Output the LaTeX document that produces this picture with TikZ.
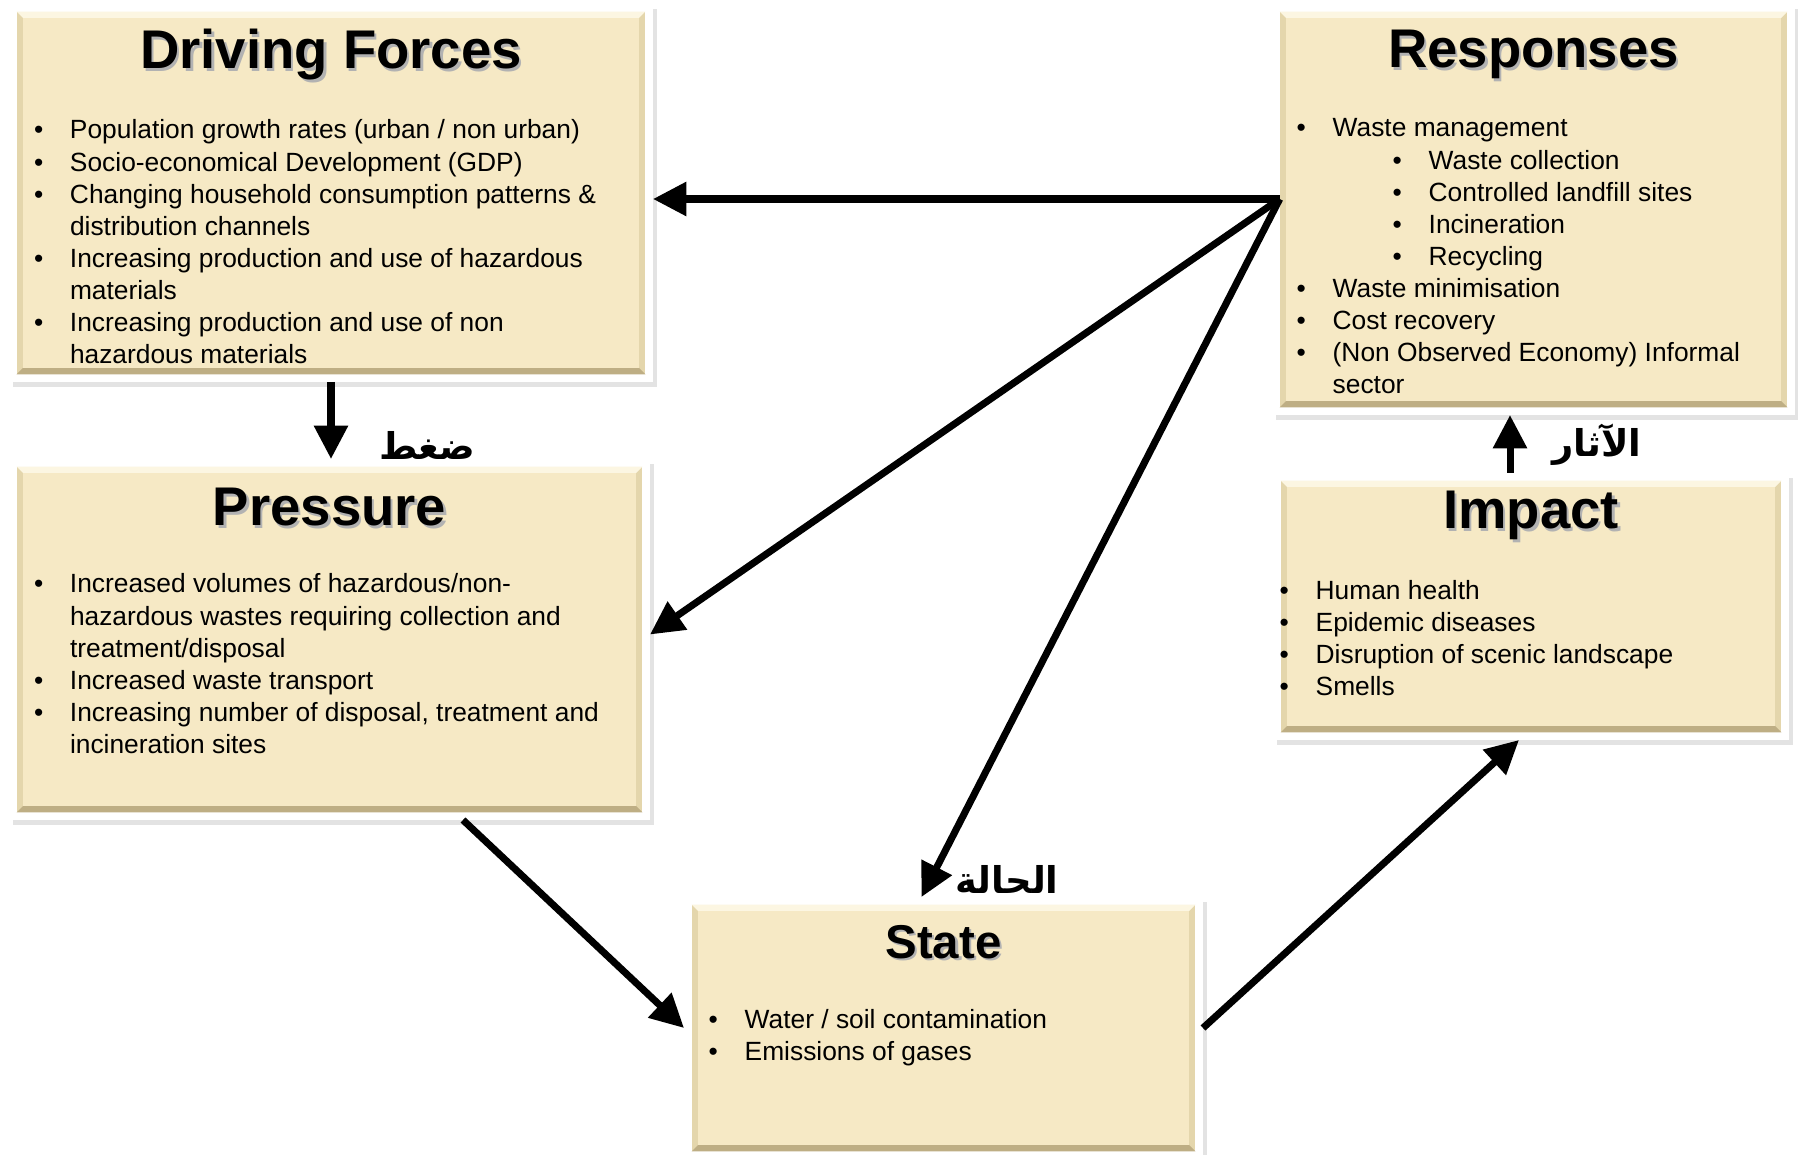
\documentclass[tikz,border=0pt]{standalone}
\usepackage{fontspec}
\setmainfont{Liberation Sans}
\newfontfamily\arabicfont[Script=Arabic]{DejaVu Sans}
\TeXXeTstate=1
\usetikzlibrary{arrows.meta,shadows}

\definecolor{boxfill}{RGB}{246,233,197}
\definecolor{bevellight}{RGB}{252,246,226}
\definecolor{beveldark}{RGB}{190,174,132}
\definecolor{bevelside}{RGB}{228,214,172}

\newcommand{\shadowed}[1]{\rlap{\raisebox{-0.7pt}{\hspace{0.7pt}\textcolor{black!30}{#1}}}#1}
\newcommand{\bul}{\makebox[0.36cm][l]{\textbullet}}
\newcommand{\cont}{\hspace*{0.36cm}}
\newcommand{\subbul}{\hspace*{0.96cm}\bul}

\tikzset{
  box/.style={
    rectangle,
    fill=white,
    inner sep=0pt,
    outer sep=0pt,
    drop shadow={shadow xshift=1pt, shadow yshift=-1.4pt, opacity=.22},
    path picture={
      \path ([shift={(2.2pt,2.2pt)}]path picture bounding box.south west) coordinate (o1)
            ([shift={(-2.2pt,-2.2pt)}]path picture bounding box.north east) coordinate (o3)
            ([shift={(4pt,4pt)}]path picture bounding box.south west) coordinate (i1)
            ([shift={(-4pt,-4pt)}]path picture bounding box.north east) coordinate (i3);
      \fill[bevelside] (o1) rectangle (o3);
      \fill[bevellight] (o1 |- o3) -- (o3) -- (i3) -- (i1 |- i3) -- cycle;
      \fill[beveldark] (o1) -- (o1 -| o3) -- (i1 -| i3) -- (i1) -- cycle;
      \fill[boxfill] (i1) rectangle (i3);
    }
  },
  title/.style={
    font=\fontsize{15.5}{18}\selectfont\bfseries,
    inner sep=0pt,
    anchor=base
  },
  small title/.style={
    title,
    font=\fontsize{13.5}{16}\selectfont\bfseries
  },
  items/.style={
    font=\fontsize{7.5}{9.13}\selectfont,
    inner sep=0pt,
    anchor=base west
  },
  arlabel/.style={
    font=\arabicfont\bfseries\fontsize{10.5}{12.5}\selectfont,
    inner sep=0pt
  },
  conn/.style={
    draw,
    line width=2pt,
    -{Triangle[length=9.5pt,width=9.3pt]}
  }
}

\begin{document}
\begin{tikzpicture}
  \useasboundingbox (0,0) rectangle (17.98,-11.55);

  \node[box, minimum width=6.44cm, minimum height=3.78cm] at (3.31,-1.93) (drv) {};
  \node[box, minimum width=5.23cm, minimum height=4.11cm] at (15.335,-2.095) (resp) {};
  \node[box, minimum width=6.41cm, minimum height=3.61cm] at (3.295,-6.395) (prs) {};
  \node[box, minimum width=5.16cm, minimum height=2.67cm] at (15.31,-6.065) (imp) {};
  \node[box, minimum width=5.19cm, minimum height=2.62cm] at (9.435,-10.28) (st) {};

  \node[title] at (3.31,-0.69) (drv-t) {\shadowed{Driving Forces}};
  \node[title] at (15.335,-0.68) (resp-t) {\shadowed{Responses}};
  \node[title] at (3.295,-5.26) (prs-t) {\shadowed{Pressure}};
  \node[title] at (15.31,-5.29) (imp-t) {\shadowed{Impact}};
  \node[small title] at (9.435,-9.58) (st-t) {\shadowed{State}};

  \node[items] at (0.333,-1.39) (drv-l) {\begin{tabular}[t]{@{}l@{}}
    \bul Population growth rates (urban / non urban)\\
    \bul Socio-economical Development (GDP)\\
    \bul Changing household consumption patterns \&\\
    \cont distribution channels\\
    \bul Increasing production and use of hazardous\\
    \cont materials\\
    \bul Increasing production and use of non\\
    \cont hazardous materials
  \end{tabular}};
  \node[items] at (12.96,-1.37) (resp-l) {\begin{tabular}[t]{@{}l@{}}
    \bul Waste management\\
    \subbul Waste collection\\
    \subbul Controlled landfill sites\\
    \subbul Incineration\\
    \subbul Recycling\\
    \bul Waste minimisation\\
    \bul Cost recovery\\
    \bul (Non Observed Economy) Informal\\
    \cont sector
  \end{tabular}};
  \node[items] at (0.333,-5.93) (prs-l) {\begin{tabular}[t]{@{}l@{}}
    \bul Increased volumes of hazardous/non-\\
    \cont hazardous wastes requiring collection and\\
    \cont treatment/disposal\\
    \bul Increased waste transport\\
    \bul Increasing number of disposal, treatment and\\
    \cont incineration sites
  \end{tabular}};
  \node[items] at (12.79,-5.995) (imp-l) {\begin{tabular}[t]{@{}l@{}}
    \bul Human health\\
    \bul Epidemic diseases\\
    \bul Disruption of scenic landscape\\
    \bul Smells
  \end{tabular}};
  \node[items] at (7.08,-10.285) (st-l) {\begin{tabular}[t]{@{}l@{}}
    \bul Water / soil contamination\\
    \bul Emissions of gases
  \end{tabular}};

  \node[arlabel] at (4.27,-4.45) (prs-a) {\beginR ضغط\endR};
  \node[arlabel] at (15.97,-4.45) (imp-a) {\beginR الآثار\endR};
  \node[arlabel] at (10.07,-8.79) (st-a) {\beginR الحالة\endR};

  \coordinate (hub) at ([xshift=2.2pt,yshift=0.105cm]resp.west);
  \coordinate (imp-top) at ([xshift=-0.21cm]imp.north);
  \path
    (hub) edge[conn] (hub -| drv.east)
    (hub) edge[conn] ([yshift=0.05cm]prs.east)
    (hub) edge[conn] ([xshift=-0.22cm]st.north)
    (drv.south) edge[conn] (drv.south |- prs.north)
    ([xshift=1.335cm]prs.south) edge[conn] (st.west)
    (st.east) edge[conn] ([xshift=-0.12cm]imp.south)
    (imp-top) edge[conn] (imp-top |- resp.south);
\end{tikzpicture}
\end{document}
